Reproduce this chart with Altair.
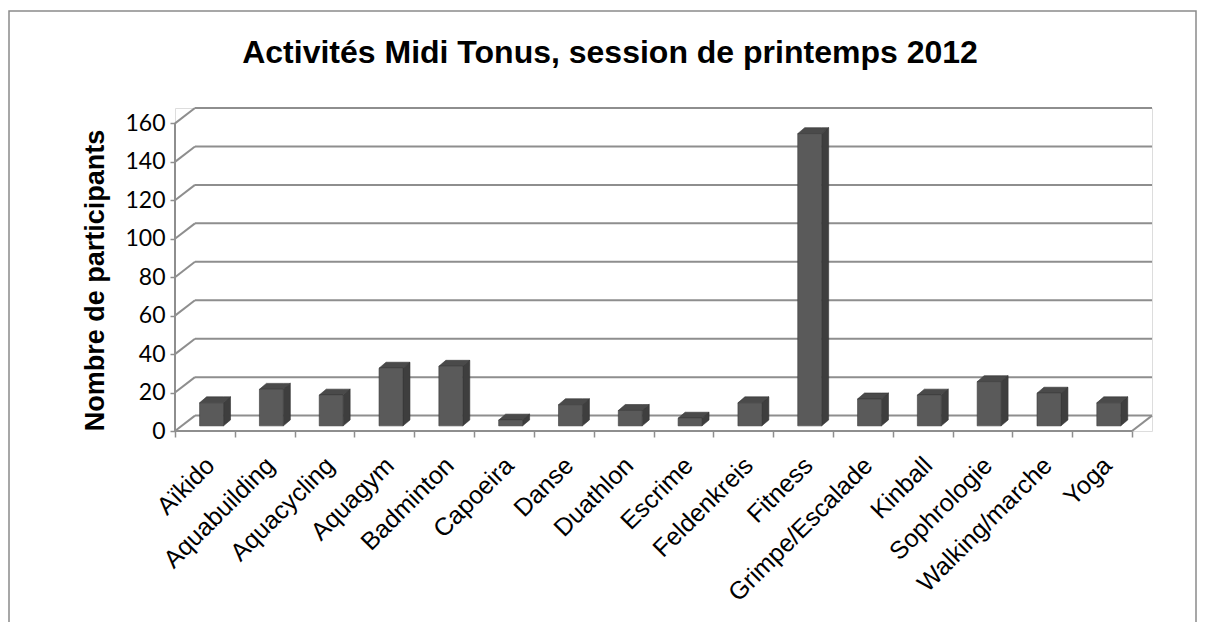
import json
import altair as alt
import pandas as pd

# ---- data ----
categories = ["Aïkido", "Aquabuilding", "Aquacycling", "Aquagym", "Badminton",
              "Capoeira", "Danse", "Duathlon", "Escrime", "Feldenkreis",
              "Fitness", "Grimpe/Escalade", "Kinball", "Sophrologie",
              "Walking/marche", "Yoga"]
participants = [12, 19, 16, 30, 31, 3, 11, 8, 4, 12, 152, 14, 16, 23, 17, 12]
y_ticks = [0, 20, 40, 60, 80, 100, 120, 140, 160]
title_text = "Activités Midi Tonus, session de printemps 2012"
y_title = "Nombre de participants"

# ---- 3D styling constants (depth of the walls and of the bars) ----
N = len(categories)
DX = 0.334          # wall depth, in category units
DY = 8.0            # wall depth, in value units
BAR_W = 0.40
BAR_SHIFT = DX / 3
BAR_LIFT = DY / 3
SIDE_DX = 0.117
SIDE_DY = 3.1
YMAX = y_ticks[-1]

GRID = "#8e8e8e"

# gridlines / walls as segments
segs = []
for t in y_ticks:
    segs.append({"x": DX, "y": t + DY, "x2": N + DX, "y2": t + DY})
    segs.append({"x": 0, "y": t, "x2": DX, "y2": t + DY})
segs.append({"x": 0, "y": 0, "x2": N, "y2": 0})
segs.append({"x": N, "y": 0, "x2": N + DX, "y2": DY})
segs.append({"x": 0, "y": 0, "x2": 0, "y2": YMAX})
seg_df = pd.DataFrame(segs)

front_rows, side_rows, top_rows = [], [], []
for i, (c, v) in enumerate(zip(categories, participants)):
    xl = i + 0.5 - BAR_W / 2 + BAR_SHIFT
    xr = xl + BAR_W
    base = BAR_LIFT
    top = v + BAR_LIFT
    front_rows.append({"cat": c, "value": v, "x": xl, "x2": xr, "y": base, "y2": top})
    side_rows += [
        {"cat": c, "x": xr, "y": top, "y2": base},
        {"cat": c, "x": xr + SIDE_DX, "y": top + SIDE_DY, "y2": base + SIDE_DY},
    ]
    top_rows += [
        {"cat": c, "x": xl, "y": top, "y2": top},
        {"cat": c, "x": xl + SIDE_DX, "y": top + SIDE_DY, "y2": top},
        {"cat": c, "x": xr, "y": top + SIDE_DY, "y2": top},
        {"cat": c, "x": xr + SIDE_DX, "y": top + SIDE_DY, "y2": top + SIDE_DY},
    ]
front_df = pd.DataFrame(front_rows)
side_df = pd.DataFrame(side_rows)
top_df = pd.DataFrame(top_rows)

xs = alt.Scale(domain=[0, N + DX], nice=False, zero=False)
ys = alt.Scale(domain=[0, YMAX + DY], nice=False, zero=False)

x_axis = alt.Axis(
    values=list(range(N + 1)),
    labelExpr=f"datum.value < {N} ? {json.dumps(categories, ensure_ascii=False)}[datum.value] : ''",
    labelAngle=315, labelAlign="right", labelBaseline="middle",
    labelOffset=35, labelPadding=24, labelFlush=False, labelOverlap=False,
    labelBound=False, labelLimit=0,
    labelFont="Liberation Sans", labelFontSize=25, labelColor="#000000",
    tickSize=6, tickColor=GRID, tickWidth=1.5,
    domain=False, grid=False, title=None,
)
y_axis = alt.Axis(
    values=y_ticks, tickSize=5, tickColor=GRID, tickWidth=1.5,
    labelFont="Lato", labelFontSize=23, labelColor="#000000", labelPadding=5,
    domain=False, grid=False,
    title=y_title, titleFont="Liberation Sans", titleFontSize=27,
    titleFontWeight="bold", titleColor="#000000", titleAngle=270,
    titleX=-80, titleY=172, titleAlign="center", titleBaseline="middle",
)

walls = alt.Chart(seg_df).mark_rule(color=GRID, strokeWidth=2).encode(
    x=alt.X("x:Q", scale=xs, axis=x_axis),
    y=alt.Y("y:Q", scale=ys, axis=y_axis),
    x2="x2:Q", y2="y2:Q",
)

side = alt.Chart(side_df).mark_area(
    orient="vertical", color="#3e3e3e", stroke="#333333", strokeWidth=0.6
).encode(
    x=alt.X("x:Q", scale=xs, axis=x_axis),
    y=alt.Y("y:Q", scale=ys, axis=y_axis),
    y2="y2:Q", detail="cat:N",
)

topf = alt.Chart(top_df).mark_area(
    orient="vertical", color="#4a4a4a", stroke="#333333", strokeWidth=0.6
).encode(
    x=alt.X("x:Q", scale=xs, axis=x_axis),
    y=alt.Y("y:Q", scale=ys, axis=y_axis),
    y2="y2:Q", detail="cat:N",
)

front = alt.Chart(front_df).mark_rect(
    color="#5a5a5a", stroke="#3a3a3a", strokeWidth=0.6
).encode(
    x=alt.X("x:Q", scale=xs, axis=x_axis),
    x2="x2:Q",
    y=alt.Y("y:Q", scale=ys, axis=y_axis),
    y2="y2:Q",
    tooltip=["cat:N", "value:Q"],
)

title = alt.Chart(pd.DataFrame({"t": [title_text]})).mark_text(
    font="Liberation Sans", fontSize=32, fontWeight="bold", color="#000000",
    align="center", baseline="middle"
).encode(text="t:N", x=alt.value(435), y=alt.value(-55))

border = alt.Chart(pd.DataFrame({"a": [0]})).mark_rect(
    fill="transparent", stroke="#8a8a8a", strokeWidth=1.5
).encode(x=alt.value(-166), x2=alt.value(1021), y=alt.value(-97), y2=alt.value(620))

chart = alt.layer(border, walls, side, topf, front, title).properties(
    width=977, height=323,
    padding={"left": 167, "top": 100, "right": 45, "bottom": 191},
    autosize=alt.AutoSizeParams(type="none"),
).configure_view(stroke=None).configure(background="white")

chart.save("out.html", embed_options={"renderer": "svg", "actions": False})
